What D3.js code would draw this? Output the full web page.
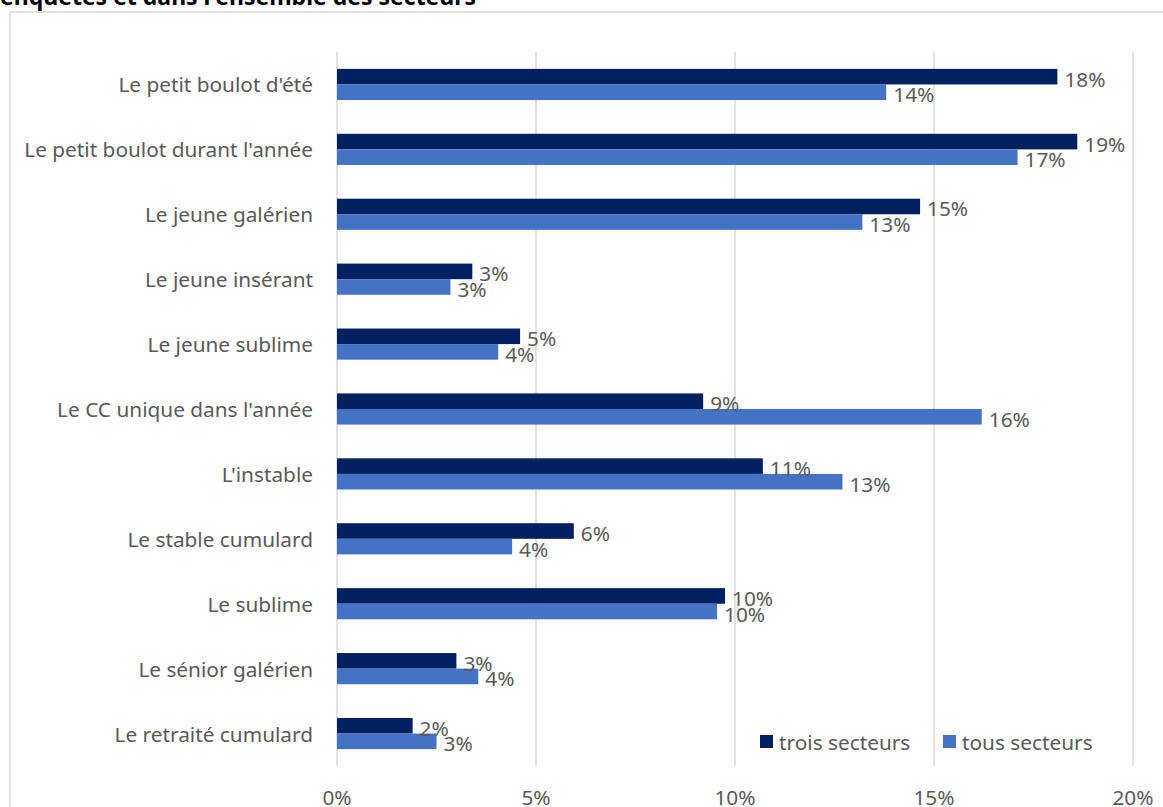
<!DOCTYPE html>
<html><head><meta charset="utf-8">
<script src="https://cdn.jsdelivr.net/npm/d3@7"></script>
<style>body{margin:0;background:#fff;} svg{display:block;}</style>
</head><body>
<svg id="c" width="1163" height="807"></svg>
<script>
const categories = ["Le petit boulot d'été","Le petit boulot durant l'année","Le jeune galérien","Le jeune insérant","Le jeune sublime","Le CC unique dans l'année","L'instable","Le stable cumulard","Le sublime","Le sénior galérien","Le retraité cumulard"];
const seriesNames = ["trois secteurs","tous secteurs"];
const troisSecteurs = [18.1,18.6,14.65,3.4,4.6,9.2,10.7,5.95,9.75,3.0,1.9];
const tousSecteurs = [13.8,17.1,13.2,2.85,4.05,16.2,12.7,4.4,9.55,3.55,2.5];
const xTicks = [0,5,10,15,20];
const colors = ["#002060","#4472c4"];
const title = "enquêtes et dans l'ensemble des secteurs";

const svg = d3.select("#c");
const font = "'Noto Sans', 'Open Sans', sans-serif";
const grey = "#595959";
const fs = 20.8;

svg.append("rect").attr("x",10).attr("y",12).attr("width",1170).attr("height",820)
  .attr("fill","none").attr("stroke","#d9d9d9").attr("stroke-width",1.5);
svg.append("text").attr("x",0).attr("y",5).text(title)
  .attr("font-family",font).attr("font-weight","bold").attr("font-size",23).attr("fill","#000");

const x = d3.scaleLinear().domain([0,20]).range([337,1133]);
const y = d3.scaleBand().domain(categories).range([52,766]).paddingInner(0.52).paddingOuter(0.26);
const ys = d3.scaleBand().domain(seriesNames).range([0,y.bandwidth()]);

svg.append("g").selectAll("line").data(xTicks).join("line")
  .attr("x1",d=>x(d)).attr("x2",d=>x(d)).attr("y1",52).attr("y2",766)
  .attr("stroke","#d9d9d9").attr("stroke-width",1.5);

const rows = categories.map((c,i)=>({c, vals:[troisSecteurs[i], tousSecteurs[i]]}));
const g = svg.append("g").selectAll("g").data(rows).join("g")
  .attr("transform",d=>`translate(0,${y(d.c)})`);
g.selectAll("rect").data(d=>d.vals.map((v,j)=>({v,s:seriesNames[j],j}))).join("rect")
  .attr("x",x(0)).attr("y",d=>ys(d.s)).attr("width",d=>x(d.v)-x(0)).attr("height",ys.bandwidth())
  .attr("fill",d=>colors[d.j]);
g.selectAll("text.lab").data(d=>d.vals.map((v,j)=>({v,s:seriesNames[j],j}))).join("text")
  .attr("class","lab")
  .attr("x",d=>x(d.v)+7).attr("y",d=>ys(d.s)+ys.bandwidth()/2+2)
  .attr("dominant-baseline","central")
  .attr("font-family",font).attr("font-size",fs).attr("fill",grey)
  .text(d=>Math.round(d.v)+"%");

svg.append("g").selectAll("text").data(categories).join("text")
  .attr("x",313).attr("y",d=>y(d)+y.bandwidth()/2).attr("text-anchor","end")
  .attr("dominant-baseline","central")
  .attr("font-family",font).attr("font-size",fs).attr("fill",grey).text(d=>d);

svg.append("g").selectAll("text").data(xTicks).join("text")
  .attr("x",d=>x(d)).attr("y",805).attr("text-anchor","middle")
  .attr("font-family",font).attr("font-size",fs).attr("fill",grey).text(d=>d+"%");

const legX = [760,943];
const lg = svg.append("g").selectAll("g").data(seriesNames).join("g")
  .attr("transform",(d,i)=>`translate(${legX[i]},735)`);
lg.append("rect").attr("width",13).attr("height",13).attr("fill",(d,i)=>colors[i]);
lg.append("text").attr("x",19).attr("y",6.5).attr("dominant-baseline","central")
  .attr("font-family",font).attr("font-size",fs).attr("fill",grey).text(d=>d);
</script>
</body></html>
